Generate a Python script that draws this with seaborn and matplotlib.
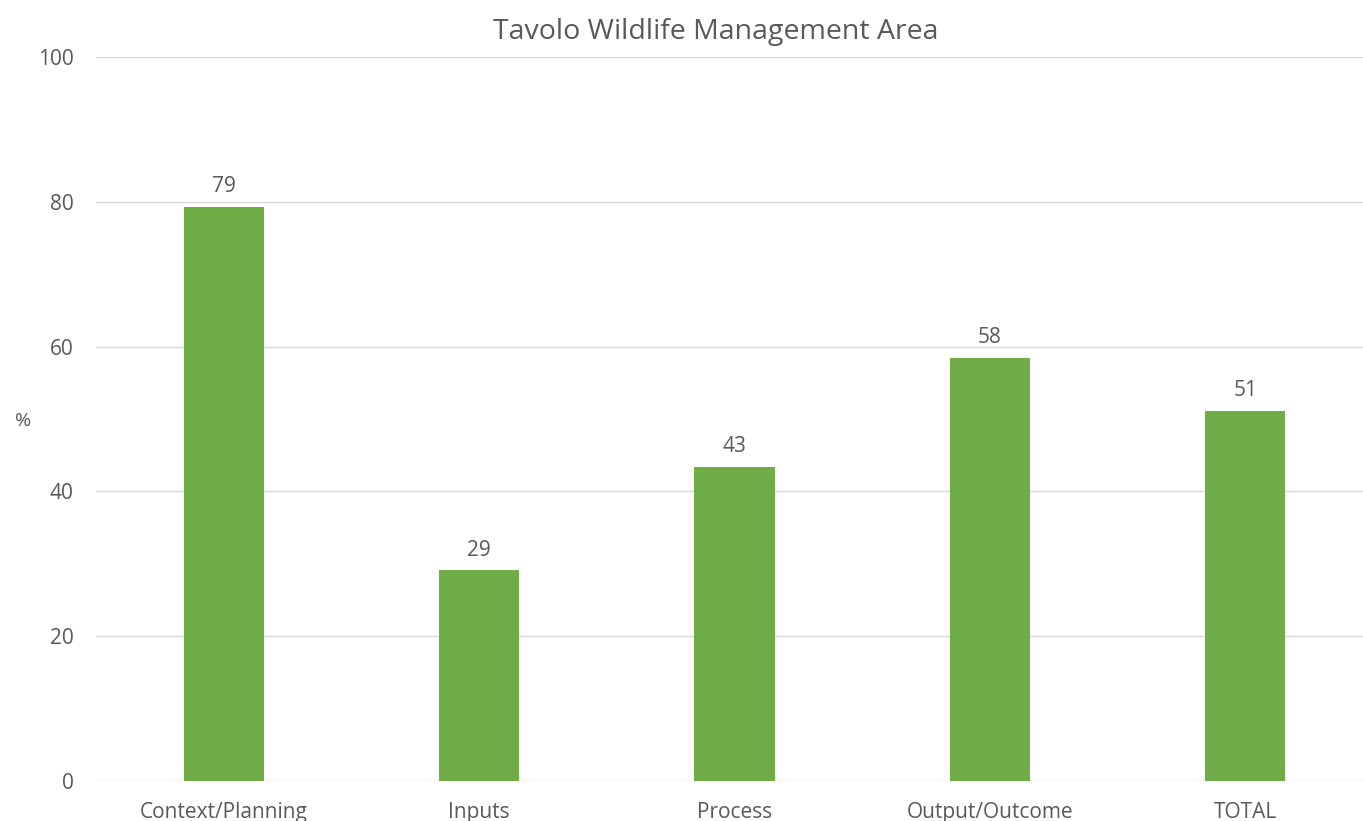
import matplotlib
matplotlib.use("Agg")
import matplotlib.pyplot as plt
import seaborn as sns
import pandas as pd

categories = ["Context/Planning", "Inputs", "Process", "Output/Outcome", "TOTAL"]
values = [79.3, 29.1, 43.4, 58.4, 51.1]
yticks = [0, 20, 40, 60, 80, 100]

sns.set_theme(style="white")
plt.rcParams['font.family'] = ['Open Sans', 'DejaVu Sans']
txt = "#595959"

df = pd.DataFrame({"cat": categories, "val": values})
fig = plt.figure(figsize=(13.63, 8.21), dpi=100)
ax = fig.add_axes([96/1363, 40/821, 1277/1363, 724/821])
sns.barplot(data=df, x="cat", y="val", color="#70AD47", saturation=1, width=0.314,
            ax=ax, zorder=3, linewidth=0)
ax.set_ylim(0, 100)
ax.set_xlim(-0.5, 4.5)
ax.set_yticks(yticks)
ax.yaxis.grid(True, color="#d9d9d9", linewidth=1, zorder=0)
for s in ax.spines.values():
    s.set_visible(False)
ax.tick_params(axis='both', length=0, labelsize=15, colors=txt)
ax.tick_params(axis='y', pad=16)
ax.tick_params(axis='x', pad=15)
ax.set_xlabel("")
ax.set_ylabel("%", rotation=0, fontsize=14, color=txt, va='center')
ax.yaxis.set_label_coords(-0.057, 0.497)
for i, v in enumerate(values):
    ax.annotate(f"{round(v)}", (i, v), xytext=(0, 7), textcoords="offset points",
                ha='center', va='bottom', fontsize=15, color=txt)
fig.text(716/1363, 1 - 32/821, "Tavolo Wildlife Management Area", fontsize=20.5,
         color=txt, ha='center', va='center')
fig.savefig("out.png", dpi=100)
